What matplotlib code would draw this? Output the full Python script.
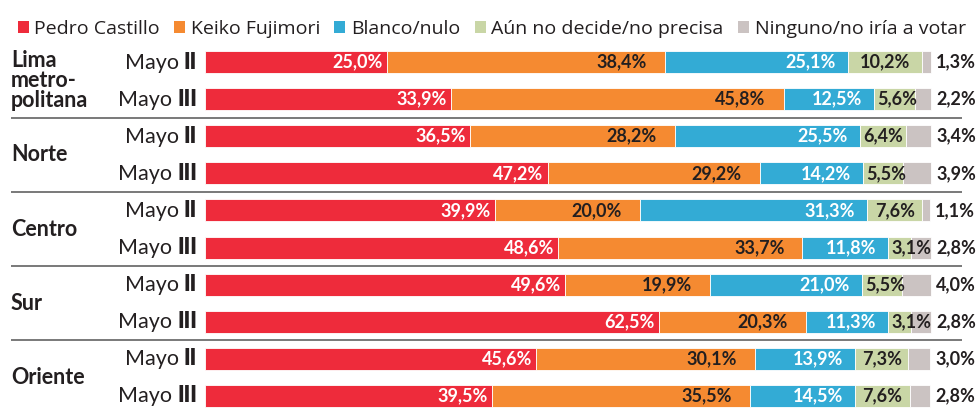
import matplotlib
matplotlib.use("Agg")
import matplotlib.pyplot as plt
import numpy as np

regions = ["Lima\nmetro-\npolitana", "Norte", "Centro", "Sur", "Oriente"]
periods = ["II", "III"]
series = ["Pedro Castillo", "Keiko Fujimori", "Blanco/nulo",
          "Aún no decide/no precisa", "Ninguno/no iría a votar"]
castillo = [25.0, 33.9, 36.5, 47.2, 39.9, 48.6, 49.6, 62.5, 45.6, 39.5]
fujimori = [38.4, 45.8, 28.2, 29.2, 20.0, 33.7, 19.9, 20.3, 30.1, 35.5]
blanco   = [25.1, 12.5, 25.5, 14.2, 31.3, 11.8, 21.0, 11.3, 13.9, 14.5]
nodecide = [10.2, 5.6, 6.4, 5.5, 7.6, 3.1, 5.5, 3.1, 7.3, 7.6]
ninguno  = [1.3, 2.2, 3.4, 3.9, 1.1, 2.8, 4.0, 2.8, 3.0, 2.8]

colors = ["#EE2B3B", "#F58A31", "#33ABD5", "#C9D6A6", "#CBC3C2"]
txtcol = ["white", "#231F20", "white", "#231F20", "#231F20"]
pads = [4, 18, 12, None, None]  # px padding from right edge
DARK = "#231F20"
FONT = "Lato"
LFONT = "Open Sans"
VFS = 13

W, H = 976, 411
fig = plt.figure(figsize=(W / 100, H / 100), dpi=100)
ax = fig.add_axes([0, 0, 1, 1])
pxu = (931 - 205) / 100.0
rowpx = 37.11
ax.set_xlim(-205 / pxu, 100 + (W - 931) / pxu)
ax.set_ylim(9 + (H - 396) / rowpx, -62 / rowpx)
ax.axis("off")

data = [castillo, fujimori, blanco, nodecide, ninguno]
y = np.arange(len(castillo))
left = np.zeros(len(castillo))
bh = 22 / rowpx
for k, vals in enumerate(data):
    vals = np.array(vals)
    ax.barh(y, vals, left=left, height=bh, color=colors[k], label=series[k],
            edgecolor="white", linewidth=0.6)
    for i, v in enumerate(vals):
        lab = f"{v:.1f}%".replace(".", ",")
        kw = dict(va="center", color=txtcol[k], fontsize=VFS,
                  fontweight="bold", family=FONT)
        if k == 4:
            ax.text(left[i] + v + 5 / pxu, y[i], lab, ha="left", **kw)
        elif k == 3:
            if v >= 6:
                ax.text(left[i] + v / 2, y[i], lab, ha="center", **kw)
            else:
                ax.text(left[i] + 3 / pxu, y[i], lab, ha="left", **kw)
        else:
            ax.text(left[i] + v - pads[k] / pxu, y[i], lab, ha="right", **kw)
    left += vals

# row labels: "Mayo" regular + roman numeral bold
for i in range(len(castillo)):
    num = periods[i % 2]
    t = ax.text(-8 / pxu, y[i], num, ha="right", va="center", color=DARK,
                fontsize=15.5, fontweight="heavy", family=FONT)
    ax.annotate("Mayo", xy=(0, 0), xycoords=t, xytext=(-3.5, 0),
                textcoords="offset points", ha="right", va="bottom",
                color=DARK, fontsize=15.5, family=FONT)

# region labels
for g, name in enumerate(regions):
    yc = 2 * g + 0.5
    ax.text(-194 / pxu, yc, name, ha="left", va="center", color=DARK,
            fontsize=15.5, fontweight="bold", family=FONT, linespacing=0.92)

# separators
for g in range(1, len(regions)):
    ax.plot([-194 / pxu, (962 - 205) / pxu], [2 * g - 0.5] * 2, color="#6E6E6E",
            lw=1.3, solid_capstyle="butt", clip_on=False)

leg = ax.legend(loc="upper left", bbox_to_anchor=(0.004, 0.985), ncol=5,
                frameon=False, handlelength=0.57, handleheight=0.57,
                handletextpad=0.3, columnspacing=0.72, borderpad=0.2,
                prop={"family": LFONT, "size": 14})
for t in leg.get_texts():
    t.set_color(DARK)
for h in leg.legend_handles:
    h.set_edgecolor("none")

fig.savefig("out.png", dpi=100)
